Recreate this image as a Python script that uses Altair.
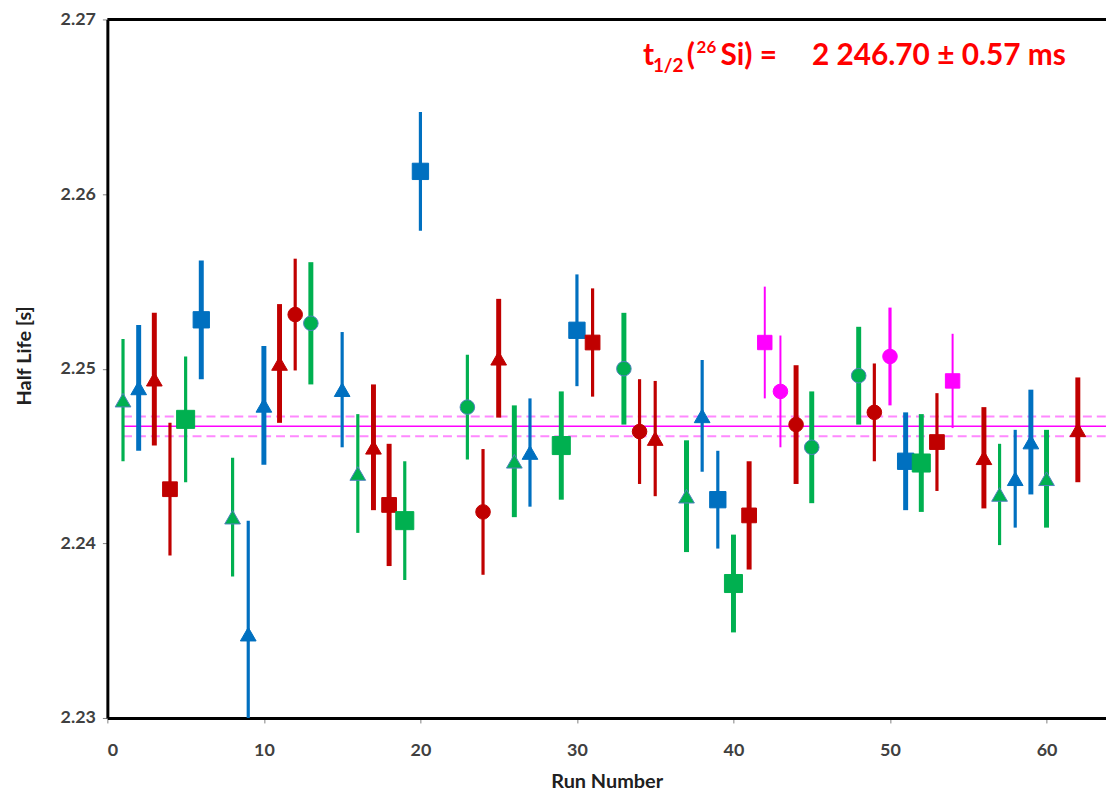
import altair as alt
import pandas as pd

# ---- data ----
runs = [1, 2, 3, 4, 5, 6, 8, 9, 10, 11, 12, 13, 15, 16, 17, 18, 19, 20, 23, 24,
        25, 26, 27, 29, 30, 31, 33, 34, 35, 37, 38, 39, 40, 41, 42, 43, 44, 45,
        48, 49, 50, 51, 52, 53, 54, 56, 57, 58, 59, 60, 62]
half_life = [2.2482, 2.2489, 2.2494, 2.2431, 2.2471, 2.2528, 2.2415, 2.2348, 2.2479, 2.2503,
             2.2531, 2.2526, 2.2488, 2.2440, 2.2455, 2.2422, 2.2413, 2.2613, 2.2478, 2.2418,
             2.2506, 2.2447, 2.2452, 2.2456, 2.2522, 2.2515, 2.2500, 2.2464, 2.2460, 2.2427,
             2.2473, 2.2425, 2.2377, 2.2416, 2.2515, 2.2487, 2.2468, 2.2455, 2.2496, 2.2475,
             2.2507, 2.2447, 2.2446, 2.2458, 2.2493, 2.2449, 2.2428, 2.2437, 2.2458, 2.2437,
             2.2465]
errors = [0.0035, 0.0036, 0.0038, 0.0038, 0.0036, 0.0034, 0.0034, 0.0065, 0.0034, 0.0034,
          0.0032, 0.0035, 0.0033, 0.0034, 0.0036, 0.0035, 0.0034, 0.0034, 0.0030, 0.0036,
          0.0034, 0.0032, 0.0031, 0.0031, 0.0032, 0.0031, 0.0032, 0.0030, 0.0033, 0.0032,
          0.0032, 0.0028, 0.0028, 0.0031, 0.0032, 0.0032, 0.0034, 0.0032, 0.0028, 0.0028,
          0.0028, 0.0028, 0.0028, 0.0028, 0.0027, 0.0029, 0.0029, 0.0028, 0.0030, 0.0028,
          0.0030]
series = ["G", "B", "R", "R", "G", "B", "G", "B", "B", "R", "R", "G", "B", "G", "R", "R", "G", "B", "G", "R",
          "R", "G", "B", "G", "B", "R", "G", "R", "R", "G", "B", "B", "G", "R", "M", "M", "R", "G",
          "G", "R", "M", "B", "G", "R", "M", "R", "G", "B", "B", "G", "R"]
markers = ["tri", "tri", "tri", "sq", "sq", "sq", "tri", "tri", "tri", "tri", "circ", "circ", "tri", "tri", "tri",
           "sq", "sq", "sq", "circ", "circ", "tri", "tri", "tri", "sq", "sq", "sq", "circ", "circ", "tri", "tri",
           "tri", "sq", "sq", "sq", "sq", "circ", "circ", "circ", "circ", "circ", "circ", "sq", "sq", "sq", "sq",
           "tri", "tri", "tri", "tri", "tri", "tri"]
bar_kind = ["thin", "thick", "thick", "thin", "thin", "thick", "thin", "thin", "thick", "thick",
            "thin", "thick", "thin", "thin", "thick", "thick", "thin", "thin", "thin", "thin",
            "thick", "thick", "thin", "thick", "thin", "thin", "thick", "thin", "thin", "thick",
            "thin", "thin", "thick", "thick", "fine", "fine", "thick", "thick", "thick", "thin",
            "thin", "thick", "thick", "thin", "fine", "thick", "thin", "thin", "thick", "thick",
            "thick"]

mean_half_life = 2.2467
mean_uncert = 0.00057
x_ticks = [0, 10, 20, 30, 40, 50, 60]
y_ticks = [2.23, 2.24, 2.25, 2.26, 2.27]

# ---- styles ----
palette = {"G": "#00B050", "B": "#0070C0", "R": "#C00000", "M": "#FF00FF"}
shape_map = {"tri": "triangle-up", "sq": "square", "circ": "circle"}
width_map = {"thick": 5, "thin": 3.2, "fine": 2}
size_map = {("G", "sq"): 330, ("B", "sq"): 270, ("R", "sq"): 220, ("M", "sq"): 210,
            ("G", "circ"): 215, ("R", "circ"): 215, ("M", "circ"): 215,
            ("G", "tri"): 250, ("B", "tri"): 250, ("R", "tri"): 250}

df = pd.DataFrame({"run": runs, "value": half_life, "err": errors,
                   "series": series, "marker": markers, "bar": bar_kind})
df["lo"] = df["value"] - df["err"]
df["hi"] = df["value"] + df["err"]
df["color"] = df["series"].map(palette)
df["shape"] = df["marker"].map(shape_map)
df["bw"] = df["bar"].map(width_map)
df["msize"] = [size_map[(s, m)] for s, m in zip(series, markers)]
df["edge"] = [("#4F81BD" if (s == "G" and m != "sq") else palette[s]) for s, m in zip(series, markers)]

X_MAX = 63.8
W, H = 1005, 703

xscale = alt.Scale(domain=[0, X_MAX], nice=False, zero=False)
yscale = alt.Scale(domain=[2.23, 2.27], nice=False, zero=False)

xaxis = alt.Axis(values=x_ticks, title="Run Number", grid=False, format="d",
                 labelPadding=19, titleY=74, titleBaseline="bottom")
yaxis = alt.Axis(values=y_ticks, title="Half Life [s]", grid=False, format=".2f",
                 labelPadding=7, titleX=-83, titleY=338, titleAngle=-90,
                 titleBaseline="middle", titleAlign="center")

base = alt.Chart(df)

bars = base.mark_rule(clip=True).encode(
    x=alt.X("run:Q", scale=xscale, axis=xaxis),
    y=alt.Y("lo:Q", scale=yscale, axis=yaxis),
    y2="hi:Q",
    color=alt.Color("color:N", scale=None),
    strokeWidth=alt.StrokeWidth("bw:Q", scale=None),
)

points = base.mark_point(filled=True, opacity=1, strokeWidth=1).encode(
    x=alt.X("run:Q", scale=xscale),
    y=alt.Y("value:Q", scale=yscale),
    shape=alt.Shape("shape:N", scale=None),
    size=alt.Size("msize:Q", scale=None),
    fill=alt.Fill("color:N", scale=None),
    stroke=alt.Stroke("edge:N", scale=None),
)

mean_df = pd.DataFrame({"x0": [1.0], "x1": [X_MAX], "m": [mean_half_life],
                        "lo": [mean_half_life - mean_uncert], "hi": [mean_half_life + mean_uncert]})
mbase = alt.Chart(mean_df)
mean_line = mbase.mark_rule(color="#FF00FF", strokeWidth=1.5).encode(
    x=alt.X("x0:Q", scale=xscale), x2="x1:Q", y=alt.Y("m:Q", scale=yscale))
band_lo = mbase.mark_rule(color="#FF88FF", strokeWidth=2, strokeDash=[9, 5]).encode(
    x=alt.X("x0:Q", scale=xscale), x2="x1:Q", y=alt.Y("lo:Q", scale=yscale))
band_hi = mbase.mark_rule(color="#FF88FF", strokeWidth=2, strokeDash=[9, 5]).encode(
    x=alt.X("x0:Q", scale=xscale), x2="x1:Q", y=alt.Y("hi:Q", scale=yscale))

top_border = mbase.mark_rule(color="black", strokeWidth=3).encode(
    x=alt.value(0), x2=alt.value(W), y=alt.value(0))

red = "#FF0000"
def txt(s, x, y, size):
    return mbase.mark_text(text=s, font="Lato", fontWeight="bold", fontSize=size,
                           color=red, align="left", baseline="alphabetic").encode(
        x=alt.value(x), y=alt.value(y))

annot = (txt("t", 539, 46, 30) + txt("1/2", 549, 53, 19) + txt("(", 583, 46, 30)
         + txt("26", 593, 34, 17) + txt("Si) =", 617, 46, 30)
         + txt("2 246.70 ± 0.57 ms", 709, 46, 30))

chart = alt.layer(band_lo, band_hi, mean_line, bars, points, top_border, annot).properties(
    width=W, height=H,
    autosize=alt.AutoSizeParams(type="none"),
    padding={"left": 100, "top": 9, "right": 0, "bottom": 75},
).configure_view(stroke=None).configure_axis(
    domainColor="black", domainWidth=3,
    tickColor="#808080", tickSize=5, tickWidth=1,
    labelFont="Lato", labelFontWeight="bold", labelFontSize=18, labelColor="#404040",
    titleFont="Lato", titleFontWeight="bold", titleFontSize=20, titleColor="#202020",
)

chart.save("out.html", embed_options={"renderer": "svg", "actions": False})
